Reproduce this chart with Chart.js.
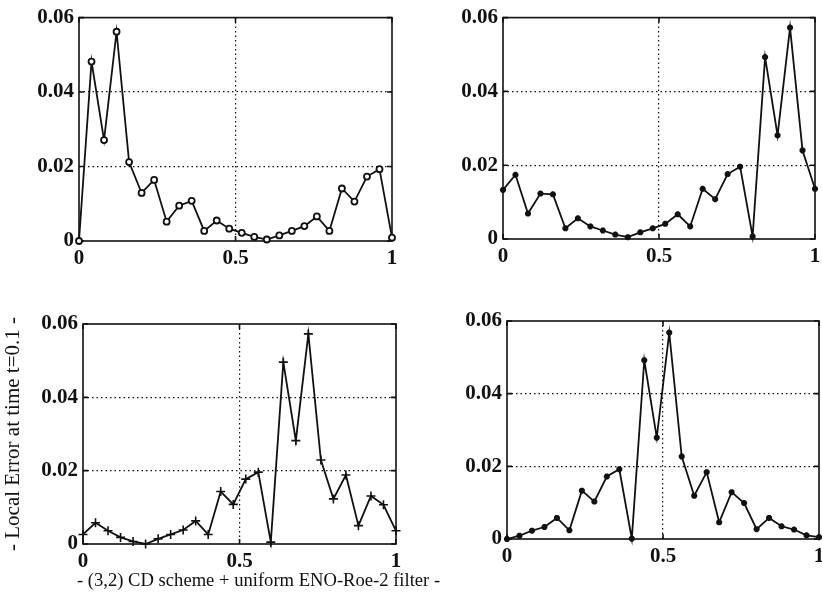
<!DOCTYPE html>
<html lang="en">
<head>
  <meta charset="UTF-8">
  <title>Local Error at time t=0.1</title>
  <script src="https://cdn.jsdelivr.net/npm/chart.js"></script>
  <style>
    * { margin: 0; padding: 0; box-sizing: border-box; }
    body {
      width: 822px;
      height: 606px;
      overflow: hidden;
      background: #fff;
      position: relative;
      font-family: 'Liberation Serif', 'DejaVu Serif', serif;
      color: #111;
    }
    canvas { position: absolute; }
    #caption {
      position: absolute;
      left: 77px;
      top: 569px;
      font-size: 18.6px;
      white-space: nowrap;
    }
  </style>
</head>
<body>

  <canvas id="c1" width="411" height="290" style="left:0;top:0"></canvas>
  <canvas id="c2" width="420" height="290" style="left:411px;top:0"></canvas>
  <canvas id="c3" width="411" height="280" style="left:0;top:300px"></canvas>
  <canvas id="c4" width="430" height="280" style="left:411px;top:300px"></canvas>
  <div id="caption">- (3,2) CD scheme + uniform ENO-Roe-2 filter -</div>

  <script>
    // grid positions (x) shared by all four panels
    const xVals = [0, 0.04, 0.08, 0.12, 0.16, 0.20, 0.24, 0.28, 0.32, 0.36, 0.40, 0.44, 0.48,
                   0.52, 0.56, 0.60, 0.64, 0.68, 0.72, 0.76, 0.80, 0.84, 0.88, 0.92, 0.96, 1.0];

    // local error
    const errTopLeft = [0, 0.0482, 0.0271, 0.0562, 0.0212, 0.0129, 0.0164, 0.0052, 0.0095, 0.0108,
                        0.0027, 0.0055, 0.0033, 0.0022, 0.0011, 0.0004, 0.0015, 0.0027, 0.0040,
                        0.0066, 0.0027, 0.0141, 0.0106, 0.0173, 0.0193, 0.0009];
    const errTopRight = [0.0133, 0.0174, 0.0069, 0.0123, 0.0121, 0.0029, 0.0056, 0.0034, 0.0023,
                         0.0012, 0.0005, 0.0018, 0.0029, 0.0041, 0.0067, 0.0034, 0.0136, 0.0108,
                         0.0176, 0.0196, 0.0007, 0.0493, 0.0281, 0.0573, 0.0240, 0.0136];
    const errBottomLeft = [0.0026, 0.0058, 0.0036, 0.0018, 0.0007, 0.0, 0.0014, 0.0026, 0.0038,
                           0.0063, 0.0026, 0.0143, 0.0108, 0.0177, 0.0196, 0.0005, 0.0496, 0.0282,
                           0.0573, 0.0229, 0.0123, 0.0188, 0.0050, 0.0131, 0.0107, 0.0036];
    const errBottomRight = [0, 0.0009, 0.0023, 0.0033, 0.0058, 0.0024, 0.0133, 0.0103, 0.0172,
                            0.0192, 0.0001, 0.0492, 0.0279, 0.0568, 0.0227, 0.0119, 0.0184, 0.0046,
                            0.0129, 0.0099, 0.0027, 0.0058, 0.0035, 0.0026, 0.0010, 0.0005];

    const xTicks = [0, 0.5, 1];
    const yTicks = [0, 0.02, 0.04, 0.06];
    const yTitle = '- Local Error at time t=0.1 -';

    const INK = '#111';
    const tickFont = { family: "'Liberation Serif', serif", size: 21, weight: 'bold' };

    // box round the plot plus small inward ticks, matlab style
    const framePlugin = {
      id: 'frame',
      beforeDatasetsDraw(chart) {
        const { ctx, chartArea: a, scales: { x, y } } = chart;
        ctx.save();
        ctx.strokeStyle = INK;
        ctx.lineWidth = 1.6;
        ctx.strokeRect(a.left, a.top, a.width, a.height);
        ctx.beginPath();
        y.ticks.forEach(t => {
          const py = y.getPixelForValue(t.value);
          ctx.moveTo(a.left, py); ctx.lineTo(a.left + 5, py);
          ctx.moveTo(a.right, py); ctx.lineTo(a.right - 5, py);
        });
        x.ticks.forEach(t => {
          const px = x.getPixelForValue(t.value);
          ctx.moveTo(px, a.bottom); ctx.lineTo(px, a.bottom - 5);
          ctx.moveTo(px, a.top); ctx.lineTo(px, a.top + 5);
        });
        ctx.stroke();
        ctx.restore();
      }
    };

    function innerGrid(ticks) {
      return ctx => {
        const v = ctx.tick ? ctx.tick.value : null;
        return (v === null || v === ticks[0] || v === ticks[ticks.length - 1]) ? 'rgba(0,0,0,0)' : INK;
      };
    }

    function makePanel(id, values, marker, box) {
      new Chart(document.getElementById(id), {
        type: 'line',
        data: {
          datasets: [{
            data: xVals.map((x, i) => ({ x: x, y: values[i] })),
            borderColor: INK,
            borderWidth: 1.8,
            pointStyle: marker.style,
            pointRadius: marker.radius,
            pointBorderWidth: marker.width,
            pointBackgroundColor: marker.fill,
            pointBorderColor: INK,
            tension: 0,
            clip: false
          }]
        },
        options: {
          responsive: false,
          animation: false,
          layout: { padding: { left: 0, top: box.top, right: box.right, bottom: 0 } },
          plugins: { legend: { display: false }, tooltip: { enabled: false } },
          scales: {
            x: {
              type: 'linear',
              min: 0, max: 1,
              afterBuildTicks: s => { s.ticks = xTicks.map(v => ({ value: v })); },
              afterFit: s => { s.height = box.xh; },
              ticks: { color: INK, font: tickFont, padding: 5, maxRotation: 0,
                       callback: v => String(v) },
              grid: { drawTicks: false, color: innerGrid(xTicks), lineWidth: 1.2 },
              border: { display: false, dash: [1.5, 3] }
            },
            y: {
              min: 0, max: 0.06,
              afterBuildTicks: s => { s.ticks = yTicks.map(v => ({ value: v })); },
              afterFit: s => { s.width = box.yw; },
              ticks: { color: INK, font: tickFont, padding: 5,
                       callback: v => v === 0 ? '0' : v.toFixed(2) },
              grid: { drawTicks: false, color: innerGrid(yTicks), lineWidth: 1.2 },
              border: { display: false, dash: [1.5, 3] },
              title: box.title ? {
                display: true, text: box.title, color: INK,
                font: { family: "'Liberation Serif', serif", size: 21 },
                padding: { top: 1, bottom: 0 }
              } : { display: false }
            }
          }
        },
        plugins: [framePlugin]
      });
    }

    makePanel('c1', errTopLeft,     { style: 'circle', radius: 3,   width: 1.8, fill: '#fff' }, { top: 16, right: 19, yw: 79, xh: 49 });
    makePanel('c2', errTopRight,    { style: 'star',   radius: 3,   width: 2.2, fill: INK },    { top: 14, right: 16, yw: 92, xh: 51 });
    makePanel('c3', errBottomLeft,  { style: 'cross',  radius: 4.5, width: 1.6, fill: INK },    { top: 24, right: 15, yw: 83, xh: 36, title: yTitle });
    makePanel('c4', errBottomRight, { style: 'star',   radius: 3,   width: 2.2, fill: INK },    { top: 21, right: 22, yw: 96, xh: 41 });
  </script>

</body>
</html>
